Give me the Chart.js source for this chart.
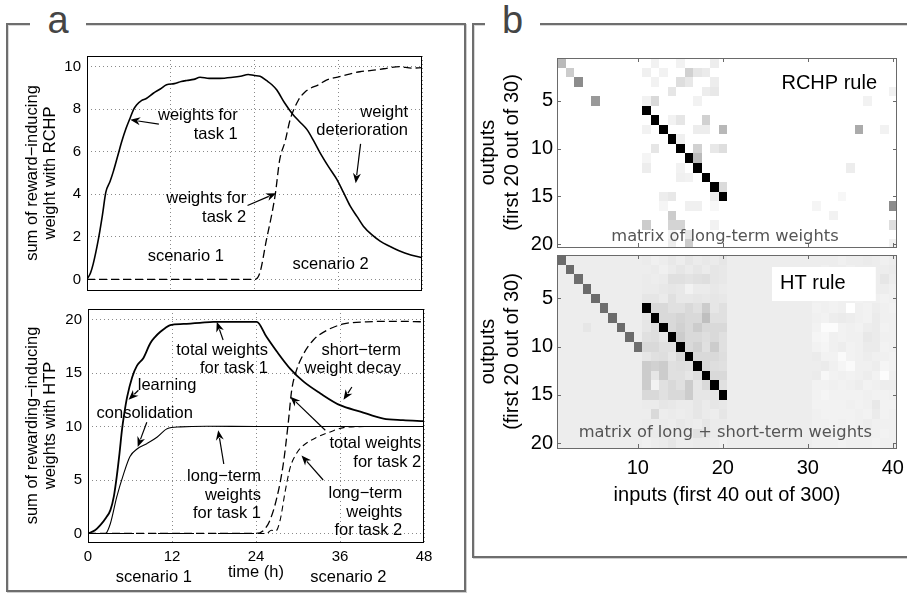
<!DOCTYPE html>
<html>
<head>
<meta charset="utf-8">
<script src="https://cdn.jsdelivr.net/npm/chart.js@4.4.1/dist/chart.umd.min.js"></script>
<style>
  html, body { margin: 0; padding: 0; overflow: hidden; background: #fff; }
  body { position: relative; width: 907px; height: 595px; font-family: "Liberation Sans", Arial, sans-serif; }
  .frame { position: absolute; border: 2px solid #6e6e6e; box-shadow: 1px 1px 0 #cfcfcf, inset 1px 1px 0 #d8d8d8; }
  #fa { left: 6px; top: 23px; width: 456px; height: 565px; }
  #fb { left: 472px; top: 23px; width: 450px; height: 531px; }
  .tag { position: absolute; top: 1px; height: 40px; background: #fff; text-align: center;
         font-size: 38px; line-height: 38px; color: #454545; }
  canvas { position: absolute; left: 0; top: 0; }
</style>
</head>
<body>
<div class="frame" id="fa"></div>
<div class="frame" id="fb"></div>
<div class="tag" style="left:30px;width:56px">a</div>
<div class="tag" style="left:485px;width:55px">b</div>
<canvas id="rchp" width="930" height="610"></canvas>
<canvas id="htp" width="930" height="610"></canvas>
<canvas id="longMat" width="930" height="610"></canvas>
<canvas id="sumMat" width="930" height="610"></canvas>
<script>
var SANS = '"Liberation Sans", Arial, sans-serif';
var DEJAVU = '"DejaVu Sans", Verdana, sans-serif';

// ---- panel a: summed weights over time ----
var hourTicks = [0, 12, 24, 36, 48];
var rchpTicks = [0, 2, 4, 6, 8, 10];
var htpTicks = [0, 5, 10, 15, 20];

var rchpTask1T = [0, 0.5, 0.9, 1.6, 2.2, 2.7, 3.3, 3.8, 4.4, 5.0, 5.6, 6.2, 6.7, 7.1, 7.8, 8.5, 9.5, 10.5, 11.4, 12.5, 13.5, 14.3, 15.3, 16.2, 17.5, 19, 20.9, 22, 23.1, 24, 24.8, 25.7, 26.5, 27.2, 28.3, 29.5, 30.5, 31.5, 32.5, 33.4, 34.6, 35.8, 36.8, 37.7, 38.7, 39.6, 40.8, 42, 43.4, 44.8, 46.4, 48];
var rchpTask1W = [0, 0.3, 0.74, 1.83, 3.0, 4.1, 4.6, 5.1, 5.8, 6.5, 7.1, 7.6, 8.0, 8.2, 8.4, 8.5, 8.75, 8.95, 9.15, 9.2, 9.3, 9.35, 9.4, 9.5, 9.45, 9.45, 9.5, 9.55, 9.63, 9.58, 9.55, 9.35, 9.15, 8.9, 8.3, 7.75, 7.4, 7.05, 6.5, 5.95, 5.3, 4.7, 4.05, 3.45, 2.95, 2.5, 2.1, 1.8, 1.55, 1.33, 1.15, 1.02];
var rchpTask2T = [0, 24.1, 24.8, 25.7, 26.5, 27.0, 27.6, 28.4, 29.1, 30.3, 31.2, 32.0, 33.2, 34.3, 36.2, 37.6, 39.1, 40.8, 42.5, 44.8, 46.5, 48];
var rchpTask2W = [0, 0, 0.34, 1.84, 3.1, 4.05, 5.6, 6.5, 7.5, 8.43, 8.8, 8.98, 9.15, 9.37, 9.53, 9.65, 9.76, 9.82, 9.9, 10.0, 9.93, 9.95];

var htpTotal1T = [0, 1.0, 1.76, 2.6, 3.2, 3.7, 4.1, 4.5, 4.85, 5.2, 5.6, 6.3, 7.0, 7.9, 8.9, 9.6, 10.3, 11.0, 11.75, 13.65, 16, 17.9, 20, 24.1, 25.5, 27, 28.9, 30.8, 33.2, 36, 38.9, 42.2, 45, 48];
var htpTotal1W = [0, 0.3, 0.78, 1.5, 2.18, 3.5, 5.3, 7.5, 9.66, 11.3, 12.8, 14.6, 15.7, 16.4, 17.8, 18.4, 18.85, 19.2, 19.5, 19.6, 19.7, 19.8, 19.8, 19.8, 18.4, 17.0, 15.4, 14.2, 13.1, 12.0, 11.4, 10.75, 10.6, 10.5];
var htpLong1T = [0, 2.5, 3.2, 4.1, 5.1, 6.0, 7.0, 8.4, 9.85, 11.3, 13.2, 17, 24, 48];
var htpLong1W = [0, 0, 0.93, 3.4, 5.6, 7.2, 7.9, 8.4, 9.0, 9.8, 9.97, 10.03, 10, 10];
var htpTotal2T = [0, 24, 25.1, 26.0, 27.0, 27.9, 28.6, 29.1, 29.8, 30.8, 32.2, 34.1, 36.5, 39.8, 44, 48];
var htpTotal2W = [0, 0, 0.3, 1.25, 3.4, 6.5, 10.3, 13.4, 15.3, 16.8, 18.1, 19.0, 19.6, 19.8, 19.85, 19.8];
var htpLong2T = [0, 25.5, 26.2, 26.8, 27.45, 28.2, 28.9, 29.8, 30.8, 32.7, 34.6, 36.5, 39.8, 48];
var htpLong2W = [0, 0, 0.3, 0.2, 1.25, 4.05, 6.2, 7.5, 8.25, 9.0, 9.5, 9.9, 10, 10];

// labels and arrows, in data units (hours, summed weight)
var rchpNotes = [
  { x: 21.6, y: 7.7, lines: ['weights for', 'task 1'], align: 'right' },
  { x: 46.0, y: 7.85, lines: ['weight', 'deterioration'], align: 'right' },
  { x: 22.8, y: 3.79, lines: ['weights for', 'task 2'], align: 'right' },
  { x: 14.15, y: 1.08, lines: ['scenario 1'] },
  { x: 34.9, y: 0.69, lines: ['scenario 2'] }
];
var rchpArrows = [[10.3, 7.3, 6.2, 7.5], [39.2, 6.37, 38.5, 4.52], [23.0, 3.47, 27.1, 4.05]];

var htpNotes = [
  { x: 25.7, y: 17.13, lines: ['total weights', 'for task 1'], align: 'right' },
  { x: 11.3, y: 13.86, lines: ['learning'] },
  { x: 8.1, y: 11.2, lines: ['consolidation'] },
  { x: 44.7, y: 17.13, lines: ['short\u2212term', 'weight decay'], align: 'right' },
  { x: 47.6, y: 8.41, lines: ['total weights', 'for task 2'], align: 'right' },
  { x: 24.7, y: 5.3, lines: ['long\u2212term', 'weights', 'for task 1'], align: 'right' },
  { x: 44.9, y: 3.74, lines: ['long\u2212term', 'weights', 'for task 2'], align: 'right' },
  { x: 9.4, y: -4.1, lines: ['scenario 1'] },
  { x: 37.2, y: -4.1, lines: ['scenario 2'] }
];
var htpArrows = [
  [19.3, 18.1, 18.4, 19.8], [7.2, 13.4, 5.8, 12.5], [8.4, 10.4, 7.1, 8.1],
  [37.7, 13.7, 36.5, 12.5], [33.9, 9.66, 28.9, 12.8], [19.4, 6.5, 18.6, 9.66],
  [33.6, 5.0, 30.5, 7.3]
];

// ---- panel b: weight matrices (shade 0 = white, 1 = black) ----
var inputTicks = [10, 20, 30, 40];
var outputTicks = [5, 10, 15, 20];

// [input, output, shade]
var rchpCells = [
  [1, 1, .27], [12, 1, .05], [15, 1, .05], [19, 1, .07],
  [2, 2, .2], [11, 2, .06], [13, 2, .05], [16, 2, .18], [17, 2, .1], [18, 2, .08],
  [3, 3, .45], [12, 3, .05], [15, 3, .13], [16, 3, .09], [19, 3, .07],
  [14, 4, .1], [18, 4, .07], [19, 4, .09], [40, 4, .05],
  [5, 5, .4], [11, 5, .05], [12, 5, .15], [17, 5, .05], [37, 5, .05],
  [11, 6, 1],
  [12, 7, 1], [14, 7, .05], [15, 7, .1], [18, 7, .18],
  [11, 8, .05], [13, 8, 1], [17, 8, .07], [18, 8, .07], [20, 8, .28], [36, 8, .33], [39, 8, .05],
  [14, 9, 1], [15, 9, .06],
  [12, 10, .1], [15, 10, 1], [17, 10, .18], [19, 10, .09], [20, 10, .13],
  [11, 11, .04], [16, 11, 1], [17, 11, .27],
  [11, 12, .07], [15, 12, .05], [17, 12, 1], [35, 12, .07],
  [15, 13, .06], [16, 13, .05], [18, 13, 1],
  [19, 14, 1], [20, 14, .14],
  [13, 15, .07], [14, 15, .09], [19, 15, .07], [20, 15, 1], [34, 15, .03],
  [13, 16, .04], [16, 16, .06], [17, 16, .06], [19, 16, .03], [31, 16, .04], [40, 16, .45],
  [14, 17, .2], [33, 17, .05],
  [11, 18, .2], [14, 18, .17], [15, 18, .17], [19, 18, .05], [40, 18, .13],
  [14, 19, .05], [16, 19, .1],
  [14, 20, .07], [16, 20, .2], [40, 20, .05]
];

var htBackground = 0.07;
var htLongDiag = [.58, .58, .57, .58, .58, .57, .58, .58, .58, .57];   // inputs 1-10, outputs 1-10
var htStray = [[4, 8, .1]];
// outputs 1-20 x inputs 11-20
var htBlockMid = [
  [.08, .06, .07, .09, .07, .1, .08, .09, .08, .1],
  [.07, .08, .06, .08, .1, .08, .1, .08, .1, .09],
  [.08, .07, .08, .12, .12, .11, .12, .13, .1, .09],
  [.08, .08, .09, .1, .09, .05, .08, .08, .09, .08],
  [.1, .1, .08, .12, .09, .09, .1, .09, .1, .09],
  [1, .15, .15, .12, .12, .15, .12, .2, .1, .12],
  [.1, 1, .15, .15, .17, .15, .15, .25, .12, .12],
  [.1, .13, 1, .15, .18, .15, .2, .15, .15, .15],
  [.12, .13, .1, 1, .2, .15, .15, .13, .15, .12],
  [.15, .15, .12, .12, 1, .15, .18, .12, .2, .12],
  [.1, .12, .13, .1, .15, 1, .15, .15, .15, .13],
  [.2, .18, .2, .12, .13, .12, 1, .15, .13, .12],
  [.2, .1, .2, .12, .12, .1, .13, 1, .15, .15],
  [.2, .05, .12, .15, .12, .2, .1, .15, 1, .12],
  [.15, .15, .12, .15, .15, .2, .1, .1, .1, 1],
  [.08, .08, .1, .09, .08, .08, .1, .08, .1, .09],
  [.07, .15, .07, .08, .07, .08, .1, .08, .07, .1],
  [.08, .07, .08, .07, .09, .08, .07, .1, .08, .08],
  [.07, .08, .09, .07, .08, .08, .12, .1, .08, .07],
  [.06, .07, .08, .1, .07, .07, .08, .08, .07, .06]
];
// outputs 1-20 x inputs 31-40
var htBlockFar = [
  [.07, .07, .07, .06, .07, .07, .08, .07, .06, .07],
  [.07, .06, .07, .07, .06, .07, .07, .07, .07, .08],
  [.07, .07, .06, .07, .07, .07, .07, .07, .1, .07],
  [.06, .07, .07, .07, .07, .06, .07, .07, .07, .06],
  [.06, .06, .05, .06, .06, .05, .06, .06, .05, .06],
  [.05, .06, .05, .06, 0, .06, .05, .07, .06, .05],
  [.06, .05, .07, .08, .07, .06, .05, .08, .06, .06],
  [.05, .01, .01, .05, .06, .05, .07, .08, .05, .06],
  [.04, .03, .06, .05, .06, .06, .09, .08, .06, .06],
  [.05, .04, .06, .07, .05, .06, .08, .08, .05, .06],
  [.08, .05, .05, .02, .05, .06, .07, .06, .06, .05],
  [.07, .08, .06, .04, .02, .06, .06, .07, .04, .05],
  [.08, .03, .05, .06, .05, .06, .07, .05, .01, .06],
  [.05, .05, .06, .05, .06, .07, .05, .06, .07, .07],
  [.05, .04, .05, .05, .05, .05, .06, .05, .05, .06],
  [.05, .05, .05, .05, .06, .05, .06, .09, .05, .05],
  [.06, .05, .05, .05, .05, .06, .05, .08, .05, .06],
  [.06, .06, .05, .06, .05, .06, .07, .06, .06, .06],
  [.06, .05, .06, .06, .05, .06, .06, .06, .05, .06],
  [.06, .06, .06, .05, .06, .06, .06, .05, .06, .06]
];

var htCells = [];
htLongDiag.forEach(function (v, i) { htCells.push([i + 1, i + 1, v]); });
htBlockMid.forEach(function (row, r) { row.forEach(function (v, k) { htCells.push([11 + k, r + 1, v]); }); });
htBlockFar.forEach(function (row, r) { row.forEach(function (v, k) { htCells.push([31 + k, r + 1, v]); }); });
htStray.forEach(function (c) { htCells.push(c); });

// ---- helpers ----
function pts(t, w) { return t.map(function (v, i) { return { x: v, y: w[i] }; }); }
function cellPts(list) { return list.map(function (c) { return { x: c[0], y: c[1], v: c[2] }; }); }
function grey(v) { var g = Math.round(255 * (1 - v)); return 'rgb(' + g + ',' + g + ',' + g + ')'; }
function fixTicks(list) { return function (s) { s.ticks = list.map(function (v) { return { value: v }; }); }; }

// filled grey cells, one per data point, sized by the scales
var cellPlugin = {
  id: 'cells',
  beforeDatasetsDraw: function (chart, args, opts) {
    var ctx = chart.ctx, a = chart.chartArea, x = chart.scales.x, y = chart.scales.y;
    ctx.save();
    ctx.beginPath(); ctx.rect(a.left, a.top, a.width, a.height); ctx.clip();
    ctx.fillStyle = grey(opts.background || 0);
    ctx.fillRect(a.left, a.top, a.width, a.height);
    chart.data.datasets[0].data.forEach(function (c) {
      var x0 = Math.round(x.getPixelForValue(c.x - 0.5)), x1 = Math.round(x.getPixelForValue(c.x + 0.5));
      var y0 = Math.round(y.getPixelForValue(c.y - 0.5)), y1 = Math.round(y.getPixelForValue(c.y + 0.5));
      ctx.fillStyle = grey(c.v);
      ctx.fillRect(Math.min(x0, x1), Math.min(y0, y1), Math.abs(x1 - x0), Math.abs(y1 - y0));
    });
    ctx.restore();
  }
};

// closed axes box with optional inward tick marks
var boxPlugin = {
  id: 'box',
  afterDatasetsDraw: function (chart, args, opts) {
    var ctx = chart.ctx, a = chart.chartArea;
    ctx.save();
    ctx.strokeStyle = opts.color || '#000';
    ctx.lineWidth = 1;
    ctx.strokeRect(Math.round(a.left) + 0.5, Math.round(a.top) + 0.5, Math.round(a.width) - 1, Math.round(a.height));
    if (opts.ticks) {
      var L = 4;
      ctx.beginPath();
      chart.scales.x.ticks.forEach(function (t) {
        var px = Math.round(chart.scales.x.getPixelForValue(t.value)) + 0.5;
        ctx.moveTo(px, a.top); ctx.lineTo(px, a.top + L);
        ctx.moveTo(px, a.bottom); ctx.lineTo(px, a.bottom - L);
      });
      chart.scales.y.ticks.forEach(function (t) {
        var py = Math.round(chart.scales.y.getPixelForValue(t.value)) + 0.5;
        ctx.moveTo(a.left, py); ctx.lineTo(a.left + L, py);
        ctx.moveTo(a.right, py); ctx.lineTo(a.right - L, py);
      });
      ctx.stroke();
    }
    ctx.restore();
  }
};

// text labels and pointer arrows given in data units
var notesPlugin = {
  id: 'notes',
  afterDraw: function (chart, args, opts) {
    var ctx = chart.ctx, x = chart.scales.x, y = chart.scales.y;
    ctx.save();
    (opts.boxes || []).forEach(function (b) {
      var x0 = x.getPixelForValue(b[0]), x1 = x.getPixelForValue(b[1]);
      var y0 = y.getPixelForValue(b[2]), y1 = y.getPixelForValue(b[3]);
      ctx.fillStyle = '#fff';
      ctx.fillRect(Math.min(x0, x1), Math.min(y0, y1), Math.abs(x1 - x0), Math.abs(y1 - y0));
    });
    ctx.strokeStyle = '#000'; ctx.fillStyle = '#000'; ctx.lineWidth = 1.2;
    (opts.arrows || []).forEach(function (r) {
      var x1 = x.getPixelForValue(r[0]), y1 = y.getPixelForValue(r[1]);
      var x2 = x.getPixelForValue(r[2]), y2 = y.getPixelForValue(r[3]);
      var ang = Math.atan2(y2 - y1, x2 - x1), hl = 10, hw = 4;
      ctx.beginPath(); ctx.moveTo(x1, y1);
      ctx.lineTo(x2 - Math.cos(ang) * hl * 0.8, y2 - Math.sin(ang) * hl * 0.8); ctx.stroke();
      ctx.beginPath();
      ctx.moveTo(x2, y2);
      ctx.lineTo(x2 - Math.cos(ang) * hl - Math.sin(ang) * hw, y2 - Math.sin(ang) * hl + Math.cos(ang) * hw);
      ctx.lineTo(x2 - Math.cos(ang) * hl * 0.7, y2 - Math.sin(ang) * hl * 0.7);
      ctx.lineTo(x2 - Math.cos(ang) * hl + Math.sin(ang) * hw, y2 - Math.sin(ang) * hl - Math.cos(ang) * hw);
      ctx.closePath(); ctx.fill();
    });
    ctx.textBaseline = 'middle';
    (opts.texts || []).forEach(function (t) {
      ctx.font = t.font || opts.font;
      ctx.fillStyle = t.color || opts.color || '#000';
      ctx.textAlign = t.align || 'center';
      var px = x.getPixelForValue(t.x), py = y.getPixelForValue(t.y);
      var lh = t.lh || opts.lh || 18.5;
      t.lines.forEach(function (s, i) { ctx.fillText(s, px, py + i * lh); });
    });
    ctx.restore();
  }
};

Chart.defaults.font.family = SANS;
Chart.defaults.color = '#000';

function base(pad) {
  return {
    responsive: false, animation: false, devicePixelRatio: 1,
    layout: { padding: pad },
    plugins: { legend: { display: false }, tooltip: { enabled: false } }
  };
}

function hourAxis(showLabels, fitH) {
  return {
    type: 'linear', min: 0, max: 48,
    afterBuildTicks: fixTicks(hourTicks),
    afterFit: function (s) { s.height = fitH; },
    grid: { color: '#8a8a8a', lineWidth: 1, drawTicks: false },
    border: { display: false, dash: [1, 3] },
    ticks: { display: showLabels, font: { size: 15 }, padding: 6 },
    title: { display: showLabels, text: 'time (h)', font: { size: 16.5, lineHeight: 1.1 }, padding: { bottom: 10 } }
  };
}

function weightAxis(min, max, ticks, title, fitW) {
  return {
    type: 'linear', min: min, max: max,
    afterBuildTicks: fixTicks(ticks),
    afterFit: function (s) { s.width = fitW; },
    grid: { color: '#8a8a8a', lineWidth: 1, drawTicks: false },
    border: { display: false, dash: [1, 3] },
    ticks: { font: { size: 15 }, padding: 6 },
    title: { display: true, text: title, font: { size: 16.5, lineHeight: 1.1 }, padding: { top: 23 } }
  };
}

function line(data, width, dash) {
  return { data: data, borderColor: '#000', borderWidth: width, borderDash: dash || [],
           pointRadius: 0, fill: false, cubicInterpolationMode: 'monotone' };
}

var noteFont = '16.5px ' + SANS;

new Chart(document.getElementById('rchp'), {
  type: 'line',
  data: { datasets: [
    line(pts(rchpTask1T, rchpTask1W), 1.6),
    line(pts(rchpTask2T, rchpTask2W), 1.3, [8, 4])
  ] },
  options: Object.assign(base({ left: 0, top: 56, right: 508, bottom: 320 }), {
    scales: {
      x: hourAxis(false, 0),
      y: weightAxis(-0.5, 10.5, rchpTicks, ['sum of reward\u2212inducing', 'weight with RCHP'], 87)
    },
    plugins: { legend: { display: false }, tooltip: { enabled: false },
      box: {}, notes: { texts: rchpNotes, arrows: rchpArrows, font: noteFont, lh: 18.5 } }
  }),
  plugins: [boxPlugin, notesPlugin]
});

new Chart(document.getElementById('htp'), {
  type: 'line',
  data: { datasets: [
    line(pts(htpTotal1T, htpTotal1W), 1.8),
    line(pts(htpLong1T, htpLong1W), 1.1),
    line(pts(htpTotal2T, htpTotal2W), 1.3, [8, 4]),
    line(pts(htpLong2T, htpLong2W), 1.1, [6, 4])
  ] },
  options: Object.assign(base({ left: 0, top: 309, right: 506, bottom: 18 }), {
    scales: {
      x: hourAxis(true, 50),
      y: weightAxis(-0.8, 21, htpTicks, ['sum of rewarding\u2212inducing', 'weights with HTP'], 88)
    },
    plugins: { legend: { display: false }, tooltip: { enabled: false },
      box: {}, notes: { texts: htpNotes, arrows: htpArrows, font: noteFont, lh: 18.5 } }
  }),
  plugins: [boxPlugin, notesPlugin]
});

function inputAxis(showLabels, fitH) {
  return {
    type: 'linear', min: 0.5, max: 40.5,
    afterBuildTicks: fixTicks(inputTicks),
    afterFit: function (s) { s.height = fitH; },
    grid: { display: false, drawTicks: false },
    border: { display: false },
    ticks: { display: showLabels, font: { size: 20 }, padding: 8 },
    title: { display: showLabels, text: 'inputs (first 40 out of 300)', font: { size: 20, lineHeight: 1.2 }, padding: { bottom: 11 } }
  };
}

function outputAxis(max) {
  return {
    type: 'linear', min: 0.5, max: max, reverse: true,
    afterBuildTicks: fixTicks(outputTicks),
    afterFit: function (s) { s.width = 87; },
    grid: { display: false, drawTicks: false },
    border: { display: false },
    ticks: { font: { size: 20 }, padding: 4 },
    title: { display: true, text: ['outputs', '(first 20 out of 30)'], font: { size: 20, lineHeight: 1.2 }, padding: { top: 6 } }
  };
}

function matrixSet(list) {
  return { type: 'scatter', data: cellPts(list), pointRadius: 0, showLine: false };
}

var matFont = '16.3px ' + DEJAVU;

new Chart(document.getElementById('longMat'), {
  type: 'scatter',
  data: { datasets: [matrixSet(rchpCells)] },
  options: Object.assign(base({ left: 470, top: 58, right: 33, bottom: 363 }), {
    scales: { x: inputAxis(false, 0), y: outputAxis(20.3) },
    plugins: { legend: { display: false }, tooltip: { enabled: false },
      cells: { background: 0 }, box: { color: '#6a6a6a', ticks: true },
      notes: { texts: [
        { x: 38.15, y: 3.12, lines: ['RCHP rule'], align: 'right', font: '20px ' + SANS },
        { x: 20.26, y: 19.25, lines: ['matrix of long-term weights'], font: matFont, color: '#555' }
      ] } }
  }),
  plugins: [cellPlugin, boxPlugin, notesPlugin]
});

new Chart(document.getElementById('sumMat'), {
  type: 'scatter',
  data: { datasets: [matrixSet(htCells)] },
  options: Object.assign(base({ left: 470, top: 255, right: 33, bottom: 92 }), {
    scales: { x: inputAxis(true, 70), y: outputAxis(20.5) },
    plugins: { legend: { display: false }, tooltip: { enabled: false },
      cells: { background: htBackground }, box: { color: '#6a6a6a', ticks: true },
      notes: {
        boxes: [[25.8, 38.0, 1.74, 5.27]],
        texts: [
          { x: 26.74, y: 3.5, lines: ['HT rule'], align: 'left', font: '20px ' + SANS },
          { x: 20.3, y: 18.95, lines: ['matrix of long + short-term weights'], font: matFont, color: '#555' }
        ] } }
  }),
  plugins: [cellPlugin, boxPlugin, notesPlugin]
});
</script>
</body>
</html>
